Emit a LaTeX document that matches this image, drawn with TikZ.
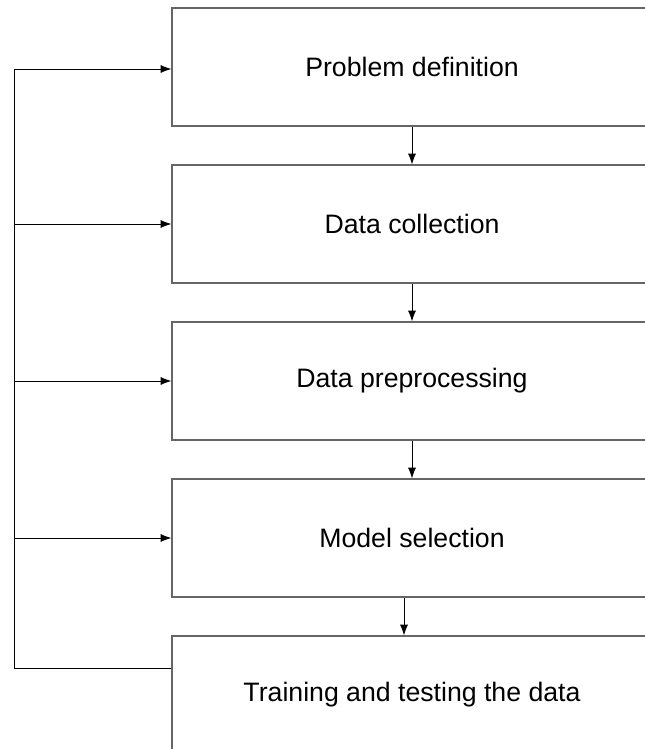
\documentclass[tikz,border=0pt]{standalone}
\usepackage{fontspec}
\setmainfont{Liberation Sans}
\usepackage{tikz}
\usetikzlibrary{arrows.meta}

\begin{document}
\begin{tikzpicture}[x=0.75pt,y=-0.75pt,
    stage/.style={rectangle,draw=black!60,line width=1pt,minimum width=360pt,minimum height=88.5pt},
    flow/.style={-{Latex[length=8pt,width=6pt]},line width=0.6pt}]
    \fontsize{20pt}{24pt}\selectfont

    \useasboundingbox (0,0) rectangle (645,749);
    \clip (0,0) rectangle (645,749);

    % Place the nodes
    \node[stage] (pd) at (412,67)  {Problem definition};
    \node[stage] (dc) at (412,224) {Data collection};
    \node[stage] (dp) at (412,381) {Data preprocessing};
    \node[stage] (ms) at (412,538) {Model selection};
    \node[stage] (tt) at (412,695) {Training and testing the data};

    % Draw the lines
    \draw[flow] (pd) -- (dc);
    \draw[flow] (dc) -- (dp);
    \draw[flow] (dp) -- (ms);
    \draw[flow] ([xshift=-6pt]ms.south) -- ([xshift=-6pt]tt.north);

    % Finally the loop back
    \coordinate (top) at (14,69);
    \coordinate (bot) at (14,668);
    \draw[line width=0.6pt] (tt.west |- bot) -- (bot) -- (top);
    \draw[flow] (top) -- (top -| pd.west);
    \draw[flow] (top |- dc) -- (dc);
    \draw[flow] (top |- dp) -- (dp);
    \draw[flow] (top |- ms) -- (ms);

\end{tikzpicture}
\end{document}
